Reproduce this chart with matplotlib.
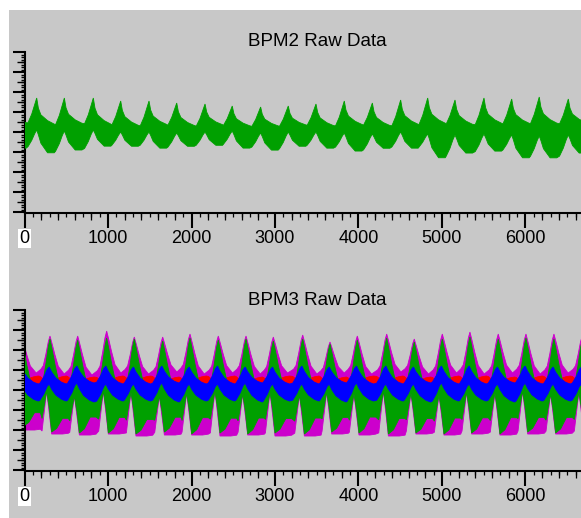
import numpy as np
import matplotlib
matplotlib.use("Agg")
import matplotlib.pyplot as plt
from matplotlib.patches import Rectangle

plt.rcParams['font.family'] = ['Liberation Sans', 'DejaVu Sans']

# ---- data (y in raw-count-like units, axis has no labels) ----
X_MAX = 6665
XTICKS = [0, 1000, 2000, 3000, 4000, 5000, 6000]
XTICK_LABELS = ['0', '1000', '2000', '3000', '4000', '5000', '6000']
TITLES = ['BPM2 Raw Data', 'BPM3 Raw Data']

# BPM2: one visible trace (green), envelope per synchrotron cycle
BPM2_PEAK_X = [-190, 146, 477, 824, 1152, 1491, 1823, 2162, 2488, 2828, 3159,
               3491, 3830, 4166, 4505, 4829, 5156, 5503, 5835, 6165, 6513, 6850]
BPM2_PEAK_TOP = [110, 114, 114, 114, 111, 111, 109, 108, 106, 105, 106,
                 108, 111, 109, 112, 114, 112, 114, 113, 115, 113, 112]
BPM2_PEAK_BOT = [80, 82, 81, 82, 80, 80, 79, 80, 81, 79, 80,
                 80, 79, 78, 80, 78, 77, 78, 77, 76, 77, 77]
BPM2_TROUGH_TOP = [87, 85, 86, 85, 84, 85, 84, 85, 84, 84, 85,
                   84, 85, 84, 85, 86, 85, 86, 86, 86, 87, 86]
BPM2_TROUGH_BOT = [63, 58, 61, 65, 65, 63, 65, 66, 63, 61, 65,
                   63, 60, 63, 63, 53, 58, 60, 53, 53, 58, 58]

# BPM3: four traces (magenta, red, green, blue)
BPM3_PEAK_X = [-30, 305, 637, 984, 1315, 1655, 1982, 2321, 2653, 2980, 3332,
               3659, 3986, 4338, 4668, 5004, 5335, 5674, 6006, 6341, 6680]
MAG_PEAK_TOP = [132, 134, 134, 139, 133, 133, 136, 134, 134, 133, 135,
                128, 134, 136, 131, 136, 138, 136, 136, 136, 134]
MAG_TROUGH_TOP = [97, 96, 95, 97, 96, 98, 96, 97, 96, 97, 96,
                  97, 96, 98, 96, 97, 96, 97, 96, 97, 96]
MAG_PEAK_BOT = [40, 36, 35, 36, 34, 35, 35, 34, 35, 34, 34,
                36, 35, 34, 36, 35, 36, 35, 36, 36, 36]
GRN_PEAK_TOP = [128, 131, 130, 132, 131, 129, 132, 130, 131, 129, 131,
                126, 130, 132, 128, 131, 133, 131, 132, 131, 130]
GRN_TROUGH_TOP = [80, 80, 79, 80, 80, 79, 80, 80, 79, 80, 80,
                  79, 80, 80, 79, 80, 80, 79, 80, 80, 80]
GRN_PEAK_BOT = [44, 38, 37, 37, 36, 38, 36, 37, 36, 37, 36,
                38, 37, 36, 37, 36, 37, 36, 38, 37, 37]
# level the lower edge climbs back to just before the next kick (shared by green and magenta)
LOW_APEX = [79, 74, 79, 78, 74, 77, 79, 76, 78, 75, 78,
            76, 79, 77, 75, 78, 77, 79, 76, 78, 77]
BLU_PEAK_TOP = [103, 103, 104, 104, 103, 104, 103, 104, 103, 103, 104,
                103, 104, 104, 103, 104, 104, 103, 104, 103, 103]
BLU_PEAK_BOT = [86, 86, 87, 86, 86, 87, 86, 86, 87, 86, 86,
                86, 87, 86, 86, 87, 86, 86, 87, 86, 86]
BLU_TROUGH_TOP = [86, 86, 87, 86, 86, 87, 86, 86, 87, 86, 86,
                  87, 86, 86, 87, 86, 86, 87, 86, 86, 86]
BLU_TROUGH_BOT = [69, 69, 68, 69, 69, 68, 69, 69, 68, 69, 69,
                  68, 69, 69, 68, 69, 69, 68, 69, 69, 69]
RED_PEAK_TOP = [86, 86, 85, 86, 86, 85, 86, 86, 85, 86, 86,
                85, 86, 86, 85, 86, 86, 85, 86, 86, 86]
RED_PEAK_BOT = [76, 76, 75, 76, 76, 75, 76, 76, 75, 76, 76,
                75, 76, 76, 75, 76, 76, 75, 76, 76, 76]
RED_TROUGH_TOP = [94, 94, 93, 94, 94, 93, 94, 94, 93, 94, 94,
                  93, 94, 94, 93, 94, 94, 93, 94, 94, 94]
RED_TROUGH_BOT = [84, 84, 83, 84, 84, 83, 84, 84, 83, 84, 84,
                  83, 84, 84, 83, 84, 84, 83, 84, 84, 84]

# ---- styling ----
BG = '#c8c8c8'
C_MAG = '#cc00cc'
C_GRN = '#00a000'
C_BLU = '#0000ff'
C_RED = '#ff0000'

# cycle shapes: (offset from peak, fraction of the way from trough level to peak level)
SHAPE_B2_TOP = ([-105, -60, -25, 0, 20, 50, 130, 210], [0.08, 0.4, 0.75, 1, 0.65, 0.42, 0.22, 0.1])
SHAPE_B2_BOT = ([-105, -60, -25, 0, 20, 50, 130, 210], [0.12, 0.45, 0.8, 1, 0.8, 0.45, 0.05, 0.05])
SHAPE_TEETH = ([-110, -80, -50, -20, 0, 25, 60, 100, 170], [0.1, 0.2, 0.5, 0.85, 1, 0.8, 0.5, 0.2, 0.0])
SHAPE_GRN_LOW = ([-95, -40, -8, 20, 80, 150, 220], [0.67, 0.0, 0.43, 1, 0.9, 0.62, 0.62])
SHAPE_MAG_LOW = ([-95, -40, -8, 20, 80, 150, 220], [0.93, 0.0, 0.53, 1, 1, 1, 0.98])
SHAPE_BAND = ([-120, -70, -35, -10, 20, 70, 140, 195], [0.05, 0.45, 0.85, 1, 0.7, 0.35, 0.1, 0.0])


def edge(peak_x, at_peak, at_trough, shape):
    offsets, weights = shape
    xs, ys = [], []
    for i, p in enumerate(peak_x):
        for off, w in zip(offsets, weights):
            base = at_trough[i - 1] if (off < 0 and i > 0) else at_trough[i]
            xs.append(p + off)
            ys.append(base + w * (at_peak[i] - base))
    return np.array(xs), np.array(ys)


def band(ax, peak_x, top, bot, color, z):
    xt, yt = edge(peak_x, top[0], top[1], top[2])
    xb, yb = edge(peak_x, bot[0], bot[1], bot[2])
    ax.fill(np.concatenate([xt, xb[::-1]]), np.concatenate([yt, yb[::-1]]),
            color=color, lw=0.6, ec=color, zorder=z)


def style_axes(ax):
    ax.set_facecolor('none')
    ax.set_xlim(0, X_MAX)
    ax.set_ylim(-1, 160)
    for s in ('top', 'right'):
        ax.spines[s].set_visible(False)
    for s in ('left', 'bottom'):
        ax.spines[s].set_linewidth(1.5)
        ax.spines[s].set_color('black')
        ax.spines[s].set_clip_on(False)

    ax.set_xticks(XTICKS, XTICK_LABELS)
    ax.set_xticks(np.arange(0, X_MAX, 100), minor=True)
    ax.tick_params(axis='x', which='major', direction='out', length=10.8, width=1.5,
                   pad=1.5, labelsize=13, colors='black')
    ax.tick_params(axis='x', which='minor', direction='out', length=3.0, width=0.9)
    sec = ax.secondary_xaxis('bottom')
    sec.set_xticks([v for v in range(200, X_MAX, 200) if v % 1000], [])
    sec.tick_params(direction='out', length=5.2, width=0.9)
    sec.spines['bottom'].set_visible(False)

    ax.set_yticks(np.arange(0, 161, 20), [])
    ax.set_yticks(np.arange(0, 161, 2.5), minor=True)
    ax.tick_params(axis='y', which='major', direction='out', length=9.0, width=1.5)
    ax.tick_params(axis='y', which='minor', direction='out', length=3.0, width=1.0)
    secy = ax.secondary_yaxis('left')
    secy.set_yticks(np.arange(10, 161, 20), [])
    secy.tick_params(direction='out', length=5.5, width=1.0)
    secy.spines['left'].set_visible(False)

    for lbl in ax.get_xticklabels():
        if lbl.get_text() == '0':
            lbl.set_bbox(dict(facecolor='white', edgecolor='none', pad=0.8))


fig = plt.figure(figsize=(5.81, 5.18), dpi=100, facecolor='white')
fig.patches.append(Rectangle((9 / 581, 0), 1, 508 / 518, transform=fig.transFigure,
                             facecolor=BG, edgecolor='none', zorder=-10))

ax1 = fig.add_axes([0.0422, 0.5888, 0.9578, 0.3108])
ax2 = fig.add_axes([0.0422, 0.0907, 0.9578, 0.3108])

band(ax1, BPM2_PEAK_X,
     (BPM2_PEAK_TOP, BPM2_TROUGH_TOP, SHAPE_B2_TOP),
     (BPM2_PEAK_BOT, BPM2_TROUGH_BOT, SHAPE_B2_BOT), C_GRN, 3)

band(ax2, BPM3_PEAK_X, (MAG_PEAK_TOP, MAG_TROUGH_TOP, SHAPE_TEETH),
     (MAG_PEAK_BOT, LOW_APEX, SHAPE_MAG_LOW), C_MAG, 1)
band(ax2, BPM3_PEAK_X, (RED_PEAK_TOP, RED_TROUGH_TOP, SHAPE_BAND),
     (RED_PEAK_BOT, RED_TROUGH_BOT, SHAPE_BAND), C_RED, 2)
band(ax2, BPM3_PEAK_X, (GRN_PEAK_TOP, GRN_TROUGH_TOP, SHAPE_TEETH),
     (GRN_PEAK_BOT, LOW_APEX, SHAPE_GRN_LOW), C_GRN, 3)
band(ax2, BPM3_PEAK_X, (BLU_PEAK_TOP, BLU_TROUGH_TOP, SHAPE_BAND),
     (BLU_PEAK_BOT, BLU_TROUGH_BOT, SHAPE_BAND), C_BLU, 4)

for ax in (ax1, ax2):
    style_axes(ax)

fig.text(0.5456, 0.9112, TITLES[0], ha='center', va='baseline', fontsize=13.5)
fig.text(0.5456, 0.4112, TITLES[1], ha='center', va='baseline', fontsize=13.5)

fig.savefig('out.png', dpi=100, facecolor='white')
